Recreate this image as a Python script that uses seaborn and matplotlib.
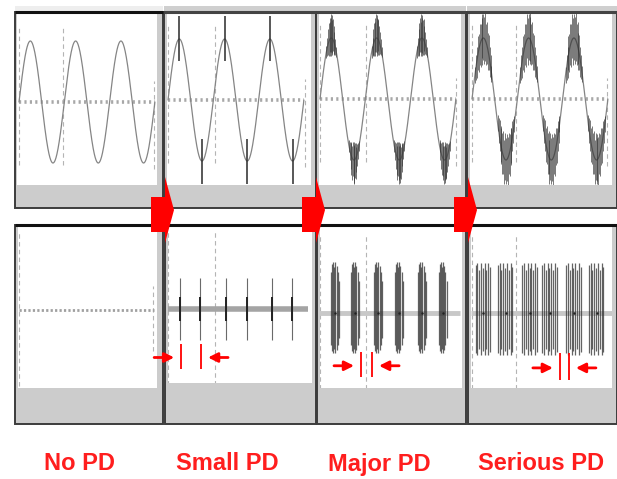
import numpy as np
import pandas as pd
import seaborn as sns
import matplotlib
matplotlib.use('Agg')
import matplotlib.pyplot as plt
from matplotlib.patches import Rectangle, Polygon

sns.set_theme(style='white')
plt.rcParams['font.family'] = ['Liberation Sans', 'DejaVu Sans']

# ---------------- data ----------------
stages = ['No PD', 'Small PD', 'Major PD', 'Serious PD']
cycles = 3

# top row: discharge spikes riding on crests / troughs of the supply wave
# (offset from crest in cycles, length outward, length inward)
small_dt = [0.0]
small_out = [0.37]
small_in = [0.36]

major_dt = [-0.11, -0.09, -0.07, -0.055, -0.04, -0.025, -0.01, 0.0, 0.01, 0.025, 0.04, 0.055, 0.07, 0.09, 0.11]
major_out = [0.10, 0.16, 0.24, 0.30, 0.36, 0.28, 0.40, 0.33, 0.38, 0.30, 0.34, 0.26, 0.20, 0.14, 0.08]
major_in = [0.10, 0.14, 0.18, 0.24, 0.20, 0.28, 0.22, 0.30, 0.24, 0.26, 0.18, 0.22, 0.16, 0.12, 0.08]

serious_dt = [-0.18, -0.16, -0.14, -0.12, -0.10, -0.08, -0.06, -0.04, -0.02, 0.0,
              0.02, 0.04, 0.06, 0.08, 0.10, 0.12, 0.14, 0.16, 0.18]
serious_out = [0.10, 0.18, 0.22, 0.30, 0.26, 0.36, 0.30, 0.42, 0.34, 0.40,
               0.36, 0.44, 0.30, 0.38, 0.28, 0.32, 0.22, 0.18, 0.12]
serious_in = [0.16, 0.22, 0.30, 0.26, 0.36, 0.32, 0.40, 0.30, 0.44, 0.36,
              0.42, 0.34, 0.38, 0.30, 0.34, 0.26, 0.28, 0.20, 0.14]

# bottom row: filtered PD pulses (time in cycles)
small_pulse_t = [0.26, 0.71, 1.28, 1.74, 2.30, 2.74]
small_pulse_h = [0.51, 0.51, 0.51, 0.51, 0.51, 0.51]

major_burst_t = [0.33, 0.77, 1.28, 1.74, 2.25, 2.71]
major_burst_dt = [-0.09, -0.065, -0.04, -0.015, 0.01, 0.035, 0.06, 0.085]
major_burst_rel = [0.80, 0.95, 1.0, 0.90, 1.0, 0.92, 0.80, 0.62]

serious_burst_t = [0.25, 0.74, 1.28, 1.72, 2.25, 2.75]
serious_burst_dt = [-0.17, -0.13, -0.09, -0.05, -0.01, 0.03, 0.07, 0.11, 0.15]
serious_burst_rel = [0.95, 1.0, 0.85, 1.0, 0.90, 1.0, 0.85, 1.0, 0.92]
burst_top = [0.84, 0.82]
burst_bot = [-0.66, -0.69]

# gap markers (pulse spacing) in the bottom row
marker_t = [None, [0.29, 0.73], [0.905, 1.15], [1.94, 2.14]]
marker_span = [None, (-0.57, -0.98), (-0.64, -1.05), (-0.66, -1.10)]

# ---------------- layout (pixels) ----------------
W, H = 617, 479
ppc, ppu = 45.3, 61.0
top_frames = [(15, 163), (164, 316), (316, 466), (467, 617)]
top_white = [(17, 157), (167, 311), (319, 461), (470, 612)]
top_t0 = [19, 168, 320, 472]
top_mid = [102, 100, 99, 99]
bot_frames = [(15, 163), (165, 316), (317, 466), (468, 617)]
bot_white = [(18, 157), (168, 312), (320, 462), (471, 612)]
bot_white_b = [388, 383, 388, 388]
bot_t0 = [19, 168, 320, 472]
bot_mid = [310, 309, 313, 313]
top_cursor = [[0, 0.97], [0, 1.03], [0, 1.01], [0, 0.97]]
top_cursor_end = [2.98, 3.02, 3.0, 2.99]
bot_cursor = [[0], [0, 1.04], [0, 1.01], [0, 0.97]]
label_x = [80, 227, 379, 541]

fig = plt.figure(figsize=(W / 100, H / 100), dpi=100)


def px_axes(l, t, r, b, z):
    ax = fig.add_axes([l / W, 1 - b / H, (r - l) / W, (b - t) / H], zorder=z)
    ax.set_axis_off()
    ax.patch.set_alpha(0)
    return ax


bg = px_axes(0, 0, W, H, 0)
bg.set_xlim(0, W)
bg.set_ylim(H, 0)

# panel frames
for row, frames, whites, t_, b_ in [(0, top_frames, top_white, 12, 208),
                                   (1, bot_frames, bot_white, 225, 424)]:
    for i, (l, r) in enumerate(frames):
        if row == 0:
            bg.add_patch(Rectangle((l, 6), r - l, 6, color='#eeeeee' if i == 0 else '#cfcfcf', lw=0))
        bg.add_patch(Rectangle((l, t_), r - l, b_ - t_, facecolor='#cccccc',
                               edgecolor='#3c3c3c', lw=1.4))
        wl, wr = whites[i]
        wb = 185 if row == 0 else bot_white_b[i]
        bg.add_patch(Rectangle((wl, t_ + 2), wr - wl, wb - t_ - 2, facecolor='white', lw=0))
        bg.plot([l, r], [t_, t_], color='#111111' if (row == 1 or i == 0) else '#444444',
                lw=2.2, solid_capstyle='butt')

t = np.linspace(0, cycles, 600)
wave = pd.DataFrame({'t': t, 'v': np.sin(2 * np.pi * t)})
spikes = [None, (small_dt, small_out, small_in), (major_dt, major_out, major_in),
          (serious_dt, serious_out, serious_in)]
spike_style = [None, dict(color='#2a2a2a', lw=1.1), dict(color='#3a3a3a', lw=0.7, alpha=0.7),
               dict(color='#303030', lw=0.7, alpha=0.65)]

# top row: supply waveform with PD
for i in range(4):
    wl, wr = top_white[i]
    ax = px_axes(wl, 14, wr, 185, 1)
    ax.set_xlim((wl - top_t0[i]) / ppc, (wr - top_t0[i]) / ppc)
    ax.set_ylim((top_mid[i] - 185) / ppu, (top_mid[i] - 14) / ppu)
    for c in top_cursor[i]:
        ax.vlines(c, -1.03, 1.25, color='#b4b4b4', lw=0.8, linestyles=(0, (4, 3)))
    ax.vlines(top_cursor_end[i], -1.1, 0.35, color='#b4b4b4', lw=0.8, linestyles=(0, (4, 3)))
    ax.hlines(0, 0, cycles, color='#a8a8a8', lw=2.6, linestyles=(0, (0.6, 0.9)))
    sns.lineplot(data=wave, x='t', y='v', ax=ax, color='#858585', lw=0.9)
    if spikes[i] is not None:
        dts, outs, ins = spikes[i]
        xs, lo, hi = [], [], []
        for k in range(cycles):
            for centre, sign in [(k + 0.25, 1), (k + 0.75, -1)]:
                for dt, o, n in zip(dts, outs, ins):
                    tt = centre + dt
                    s = np.sin(2 * np.pi * tt)
                    xs.append(tt)
                    lo.append(s - sign * n)
                    hi.append(s + sign * o)
        ax.vlines(xs, lo, hi, **spike_style[i])

# bottom row: PD pulses
for i in range(4):
    wl, wr = bot_white[i]
    wb = bot_white_b[i]
    ax = px_axes(wl, 228, wr, wb, 1)
    ax.set_xlim((wl - bot_t0[i]) / ppc, (wr - bot_t0[i]) / ppc)
    ax.set_ylim((bot_mid[i] - wb) / ppu, (bot_mid[i] - 228) / ppu)
    for c in bot_cursor[i]:
        ax.vlines(c, -1.25, 1.3, color='#b4b4b4', lw=0.8, linestyles=(0, (4, 3)))
    if i == 0:
        ax.vlines(2.95, -0.67, 0.4, color='#b4b4b4', lw=0.8, linestyles=(0, (4, 3)))
        ax.hlines(0, 0, 2.99, color='#a0a0a0', lw=2.0, linestyles=(0, (0.8, 0.8)))
    elif i == 1:
        ax.hlines(0, -0.02, 3.1, color='#a4a4a4', lw=4)
        ax.vlines(small_pulse_t, [-h for h in small_pulse_h], small_pulse_h, color='#6a6a6a', lw=0.8)
        ax.vlines(small_pulse_t, [-0.4 * h for h in small_pulse_h], [0.4 * h for h in small_pulse_h],
                  color='#222222', lw=1.4)
    else:
        ax.hlines(0, -0.02, 3.1, color='#c8c8c8', lw=3.5)
        j = i - 2
        centres = [major_burst_t, serious_burst_t][j]
        dts = [major_burst_dt, serious_burst_dt][j]
        rel = [major_burst_rel, serious_burst_rel][j]
        xs, lo, hi = [], [], []
        for c in centres:
            for dt, r in zip(dts, rel):
                xs.append(c + dt)
                lo.append(burst_bot[j] * r)
                hi.append(burst_top[j] * r)
        ax.vlines(xs, lo, hi, color='#303030', lw=0.9, alpha=0.75)
        ax.scatter(centres, [0] * len(centres), s=3, color='#222222', zorder=3, lw=0)
    if marker_t[i] is not None:
        a, b = marker_t[i]
        y0, y1 = marker_span[i]
        ax.vlines([a, b], y1, y0, color='red', lw=1.3)
        ya = (y0 + y1) / 2 - 0.02
        ax.annotate('', xy=(a, ya), xytext=(-27, 0), textcoords='offset pixels',
                    arrowprops=dict(arrowstyle='-|>', color='red', lw=2, mutation_scale=14,
                                    shrinkA=0, shrinkB=5))
        ax.annotate('', xy=(b, ya), xytext=(27, 0), textcoords='offset pixels',
                    arrowprops=dict(arrowstyle='-|>', color='red', lw=2, mutation_scale=14,
                                    shrinkA=0, shrinkB=5))

# foreground: red block arrows and stage labels
fg = px_axes(0, 0, W, H, 2)
fg.set_xlim(0, W)
fg.set_ylim(H, 0)
for x0 in [151, 302, 454]:
    fg.add_patch(Polygon([(x0, 197), (x0 + 14, 197), (x0 + 14, 177), (x0 + 23, 210),
                          (x0 + 14, 243), (x0 + 14, 232), (x0, 232)], closed=True,
                         color='#ff0000', lw=0))
for x, s in zip(label_x, stages):
    fg.text(x, 464, s, ha='center', va='center', fontsize=17, fontweight='bold',
            color='#ff1e1e')

fig.savefig('out.png', dpi=100)
